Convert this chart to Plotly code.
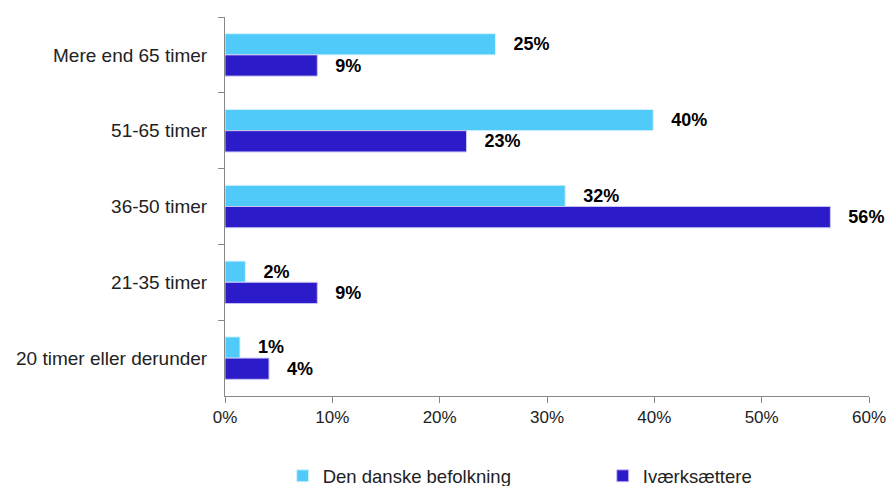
import plotly.graph_objects as go

categories = ['Mere end 65 timer', '51-65 timer', '36-50 timer', '21-35 timer', '20 timer eller derunder']
befolkning = [25.2, 39.9, 31.7, 1.9, 1.4]
ivaerksaettere = [8.6, 22.5, 56.4, 8.6, 4.1]
labels_befolkning = ['25%', '40%', '32%', '2%', '1%']
labels_ivaerksaettere = ['9%', '23%', '56%', '9%', '4%']

LIGHT = '#4FCAF9'
DARK = '#2B1BC9'
FONT = 'Liberation Sans, Arial, sans-serif'

fig = go.Figure()
fig.add_trace(go.Bar(
    y=categories, x=befolkning, orientation='h', name='Den danske befolkning',
    marker=dict(color=LIGHT, line=dict(color='#D8F2FF', width=1)),
    text=labels_befolkning, textposition='outside', cliponaxis=False,
    texttemplate='   %{text}', legend='legend',
    textfont=dict(family=FONT, size=18, color='black', weight='bold'),
))
fig.add_trace(go.Bar(
    y=categories, x=ivaerksaettere, orientation='h', name='Iværksættere',
    marker=dict(color=DARK, line=dict(color='#C9C3F2', width=1)),
    text=labels_ivaerksaettere, textposition='outside', cliponaxis=False,
    texttemplate='   %{text}', legend='legend2',
    textfont=dict(family=FONT, size=18, color='black', weight='bold'),
))

legend_style = dict(
    orientation='h', xref='container', yref='container',
    xanchor='left', yanchor='middle', y=0.02,
    font=dict(family=FONT, size=18.5, color='#222222'), itemwidth=30,
    bgcolor='rgba(0,0,0,0)',
)

fig.update_layout(
    width=889, height=486,
    margin=dict(l=225, r=20, t=17, b=90),
    paper_bgcolor='white', plot_bgcolor='white',
    font=dict(family=FONT, size=16, color='#222222'),
    barmode='group', bargap=0.44, bargroupgap=0.0,
    showlegend=True,
    legend=dict(x=0.318, **legend_style),
    legend2=dict(x=0.678, **legend_style),
)
fig.update_xaxes(
    range=[0, 60], tickvals=[0, 10, 20, 30, 40, 50, 60],
    ticktext=['0%', '10%', '20%', '30%', '40%', '50%', '60%'],
    tickfont=dict(family=FONT, size=17, color='#222222'),
    showgrid=False, zeroline=False, automargin=False,
    showline=True, linecolor='#888888', linewidth=1,
    ticks='outside', ticklen=6, tickcolor='#888888',
)
fig.update_yaxes(
    autorange='reversed', showgrid=False, automargin=False,
    tickfont=dict(family=FONT, size=19, color='#222222'),
    showline=True, linecolor='#888888', linewidth=1,
    ticks='outside', ticklen=6, tickcolor='#888888', tickson='boundaries',
    ticklabelstandoff=13,
)

fig.write_html('out.html', config={'displayModeBar': False},
               post_script="document.body.style.margin='0';")
